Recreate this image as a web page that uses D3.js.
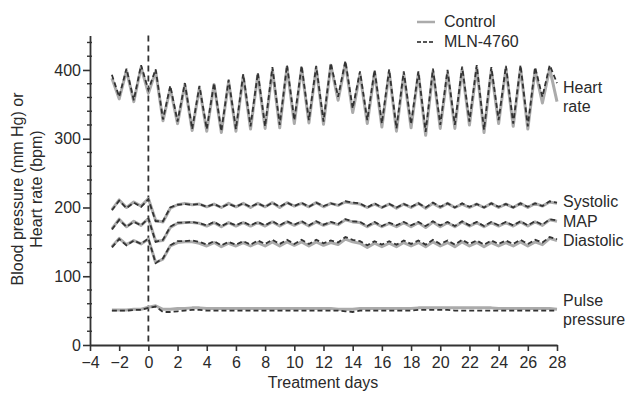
<!DOCTYPE html>
<html>
<head>
<meta charset="utf-8">
<script src="https://cdn.jsdelivr.net/npm/d3@7"></script>
<style>
  body { margin: 0; background: #fff; }
  svg { display: block; font-family: "Liberation Sans", Arial, sans-serif; }
  .tick text { font-size: 16px; fill: #2a2a2a; }
</style>
</head>
<body>
<svg id="chart" width="627" height="393"></svg>
<script>
// sampling every half day, -2.5 .. 28
const days = [-2.5, -2, -1.5, -1, -0.5, 0, 0.5, 1, 1.5, 2, 2.5, 3, 3.5, 4, 4.5, 5, 5.5, 6, 6.5, 7, 7.5,
  8, 8.5, 9, 9.5, 10, 10.5, 11, 11.5, 12, 12.5, 13, 13.5, 14, 14.5, 15, 15.5, 16, 16.5, 17, 17.5,
  18, 18.5, 19, 19.5, 20, 20.5, 21, 21.5, 22, 22.5, 23, 23.5, 24, 24.5, 25, 25.5, 26, 26.5, 27, 27.5, 28];

const hrControl = [388, 358, 399, 354, 404, 366, 398, 326, 373, 322, 379, 312, 374, 311, 379, 309, 383, 311, 391, 314, 393,
  315, 400, 316, 404, 322, 403, 323, 403, 321, 407, 356, 410, 338, 394, 322, 397, 317, 397, 311, 394,
  316, 395, 305, 398, 315, 396, 315, 401, 320, 403, 309, 400, 322, 402, 318, 403, 314, 400, 352, 402, 354];
const hrMLN = [393, 361, 402, 356, 407, 371, 401, 328, 377, 325, 381, 314, 377, 314, 381, 311, 386, 314, 394, 318, 396,
  318, 404, 320, 407, 327, 406, 327, 406, 325, 410, 361, 413, 344, 398, 327, 400, 322, 401, 315, 398,
  321, 398, 310, 402, 320, 400, 320, 405, 325, 407, 313, 404, 327, 406, 322, 407, 318, 404, 361, 407, 381];

const sysControl = [197, 211, 200, 208, 202, 213, 181, 179, 199, 204, 206, 204, 205, 201, 205, 200, 206, 201, 206, 200, 206,
  201, 207, 200, 207, 202, 206, 201, 207, 201, 206, 203, 208, 206, 205, 200, 205, 200, 205, 199, 205,
  200, 206, 199, 206, 200, 206, 200, 205, 200, 205, 200, 206, 200, 205, 200, 206, 200, 206, 202, 208, 206];
const sysMLN = [196, 210, 199, 207, 201, 212, 180, 180, 200, 204, 205, 204, 205, 201, 205, 200, 205, 201, 206, 201, 206,
  201, 207, 201, 207, 202, 207, 201, 207, 202, 206, 203, 209, 207, 206, 200, 206, 200, 205, 200, 205,
  201, 206, 200, 207, 201, 206, 200, 206, 201, 205, 200, 206, 201, 205, 200, 206, 201, 206, 202, 209, 207];

const mapControl = [169, 183, 172, 180, 174, 184, 151, 152, 171, 177, 178, 178, 177, 173, 178, 172, 178, 173, 178, 173, 178,
  173, 179, 173, 179, 174, 179, 173, 179, 174, 178, 175, 182, 179, 178, 172, 178, 172, 177, 172, 178,
  172, 178, 171, 179, 172, 178, 172, 179, 173, 178, 172, 178, 173, 178, 173, 179, 173, 179, 174, 182, 180];
const mapMLN = [168, 182, 172, 179, 174, 184, 150, 153, 172, 178, 178, 179, 177, 174, 179, 173, 178, 174, 179, 174, 179,
  174, 180, 174, 180, 175, 180, 174, 180, 175, 179, 176, 183, 180, 179, 173, 179, 173, 178, 174, 179,
  174, 179, 173, 180, 174, 179, 173, 180, 174, 179, 173, 179, 174, 179, 174, 180, 174, 180, 175, 183, 181];

const diaControl = [143, 155, 146, 152, 147, 154, 120, 125, 144, 149, 150, 150, 148, 144, 149, 143, 148, 144, 149, 144, 149,
  144, 150, 144, 150, 145, 150, 144, 150, 145, 149, 146, 154, 150, 148, 142, 148, 143, 148, 143, 149,
  144, 149, 143, 150, 144, 149, 143, 150, 144, 149, 143, 149, 144, 149, 144, 150, 144, 150, 146, 155, 152];
const diaMLN = [142, 154, 145, 152, 147, 155, 119, 126, 145, 151, 151, 152, 150, 146, 151, 145, 150, 146, 151, 146, 152,
  147, 153, 147, 153, 147, 153, 147, 153, 148, 152, 149, 157, 153, 151, 145, 151, 146, 151, 146, 152,
  147, 152, 146, 153, 147, 152, 146, 153, 147, 152, 146, 152, 147, 152, 147, 153, 147, 153, 149, 157, 154];

const ppControl = [51, 51, 51, 52, 52, 55, 57, 52, 52, 53, 53, 54, 54, 53, 53, 53, 53, 53, 53, 53, 53,
  53, 53, 53, 53, 53, 53, 53, 53, 53, 53, 52, 52, 52, 53, 53, 53, 53, 53, 53, 53,
  53, 54, 54, 54, 54, 54, 54, 54, 54, 54, 54, 54, 53, 53, 53, 53, 53, 53, 53, 53, 52];
const ppMLN = [50, 50, 50, 51, 51, 54, 56, 48, 48, 49, 50, 51, 51, 50, 50, 50, 50, 50, 50, 50, 50,
  50, 50, 50, 50, 50, 50, 50, 50, 50, 50, 50, 49, 48, 50, 50, 50, 50, 50, 50, 50,
  50, 51, 51, 51, 51, 51, 50, 50, 50, 50, 50, 50, 50, 50, 50, 50, 50, 50, 50, 50, 50];

const seriesLabels = [
  { lines: ['Heart', 'rate'], y: 93 },
  { lines: ['Systolic'], y: 207 },
  { lines: ['MAP'], y: 227 },
  { lines: ['Diastolic'], y: 246 },
  { lines: ['Pulse', 'pressure'], y: 306 }
];

const xTicks = [-4, -2, 0, 2, 4, 6, 8, 10, 12, 14, 16, 18, 20, 22, 24, 26, 28];
const yTicks = [0, 100, 200, 300, 400];
const yMinorTicks = [20, 40, 60, 80, 120, 140, 160, 180, 220, 240, 260, 280, 320, 340, 360, 380, 420, 440];

const controlColor = '#ababab';
const mlnColor = '#333';
const axisColor = '#333';
const textColor = '#2a2a2a';

const svg = d3.select('#chart');

const x = d3.scaleLinear().domain([-4, 28]).range([90, 557]);
const y = d3.scaleLinear().domain([0, 450]).range([345, 35.6]);

// axes
const xAxis = svg.append('g')
  .attr('transform', `translate(0,${y(0)})`)
  .call(d3.axisBottom(x).tickValues(xTicks).tickSize(6).tickPadding(3).tickSizeOuter(0));

const yAxis = svg.append('g')
  .attr('transform', `translate(${x(-4)},0)`)
  .call(d3.axisLeft(y).tickValues(yTicks).tickSize(7).tickPadding(2).tickSizeOuter(0));

[xAxis, yAxis].forEach(g => {
  g.select('.domain').attr('stroke', axisColor).attr('stroke-width', 1.8);
  g.selectAll('.tick line').attr('stroke', axisColor).attr('stroke-width', 1.6);
});
xAxis.selectAll('.tick text').attr('dy', '0.85em');

svg.append('g')
  .selectAll('line')
  .data(yMinorTicks)
  .join('line')
  .attr('x1', x(-4) - 3)
  .attr('x2', x(-4) + 2)
  .attr('y1', d => y(d))
  .attr('y2', d => y(d))
  .attr('stroke', axisColor)
  .attr('stroke-width', 1.4);

// treatment start
svg.append('line')
  .attr('x1', x(0)).attr('x2', x(0))
  .attr('y1', y(450)).attr('y2', y(0))
  .attr('stroke', mlnColor)
  .attr('stroke-width', 1.8)
  .attr('stroke-dasharray', '6,4');

const line = d3.line()
  .x((d, i) => x(days[i]))
  .y(d => y(d));

const controls = [hrControl, sysControl, mapControl, diaControl, ppControl];
const mlns = [hrMLN, sysMLN, mapMLN, diaMLN, ppMLN];

svg.append('g')
  .selectAll('path')
  .data(controls)
  .join('path')
  .attr('d', line)
  .attr('fill', 'none')
  .attr('stroke', controlColor)
  .attr('stroke-width', 3)
  .attr('stroke-linejoin', 'round');

svg.append('g')
  .selectAll('path')
  .data(mlns)
  .join('path')
  .attr('d', line)
  .attr('fill', 'none')
  .attr('stroke', mlnColor)
  .attr('stroke-width', 1.8)
  .attr('stroke-dasharray', '5,3');

// right side labels
const lbl = svg.append('g')
  .attr('font-size', 16)
  .attr('fill', textColor);

seriesLabels.forEach(s => {
  lbl.append('text')
    .attr('x', 563)
    .attr('y', s.y)
    .selectAll('tspan')
    .data(s.lines)
    .join('tspan')
    .attr('x', 563)
    .attr('dy', (d, i) => i ? 19 : 0)
    .text(d => d);
});

// legend
const legend = svg.append('g').attr('font-size', 16).attr('fill', textColor);
const legendItems = [
  { name: 'Control', color: controlColor, width: 2.5, dash: null, y: 22 },
  { name: 'MLN-4760', color: '#555', width: 1.8, dash: '4,2', y: 42 }
];
legendItems.forEach(it => {
  legend.append('line')
    .attr('x1', 417).attr('x2', 435)
    .attr('y1', it.y).attr('y2', it.y)
    .attr('stroke', it.color)
    .attr('stroke-width', it.width)
    .attr('stroke-dasharray', it.dash);
  legend.append('text')
    .attr('x', 444)
    .attr('y', it.y + 5)
    .text(it.name);
});

// axis titles
svg.append('text')
  .attr('x', 323)
  .attr('y', 388)
  .attr('text-anchor', 'middle')
  .attr('font-size', 16)
  .attr('fill', textColor)
  .text('Treatment days');

const yTitle = svg.append('text')
  .attr('transform', 'translate(0,189) rotate(-90)')
  .attr('text-anchor', 'middle')
  .attr('font-size', 16)
  .attr('fill', textColor);
yTitle.append('tspan').attr('x', 0).attr('y', 23).text('Blood pressure (mm Hg) or');
yTitle.append('tspan').attr('x', 0).attr('y', 42).text('Heart rate (bpm)');
</script>
</body>
</html>
